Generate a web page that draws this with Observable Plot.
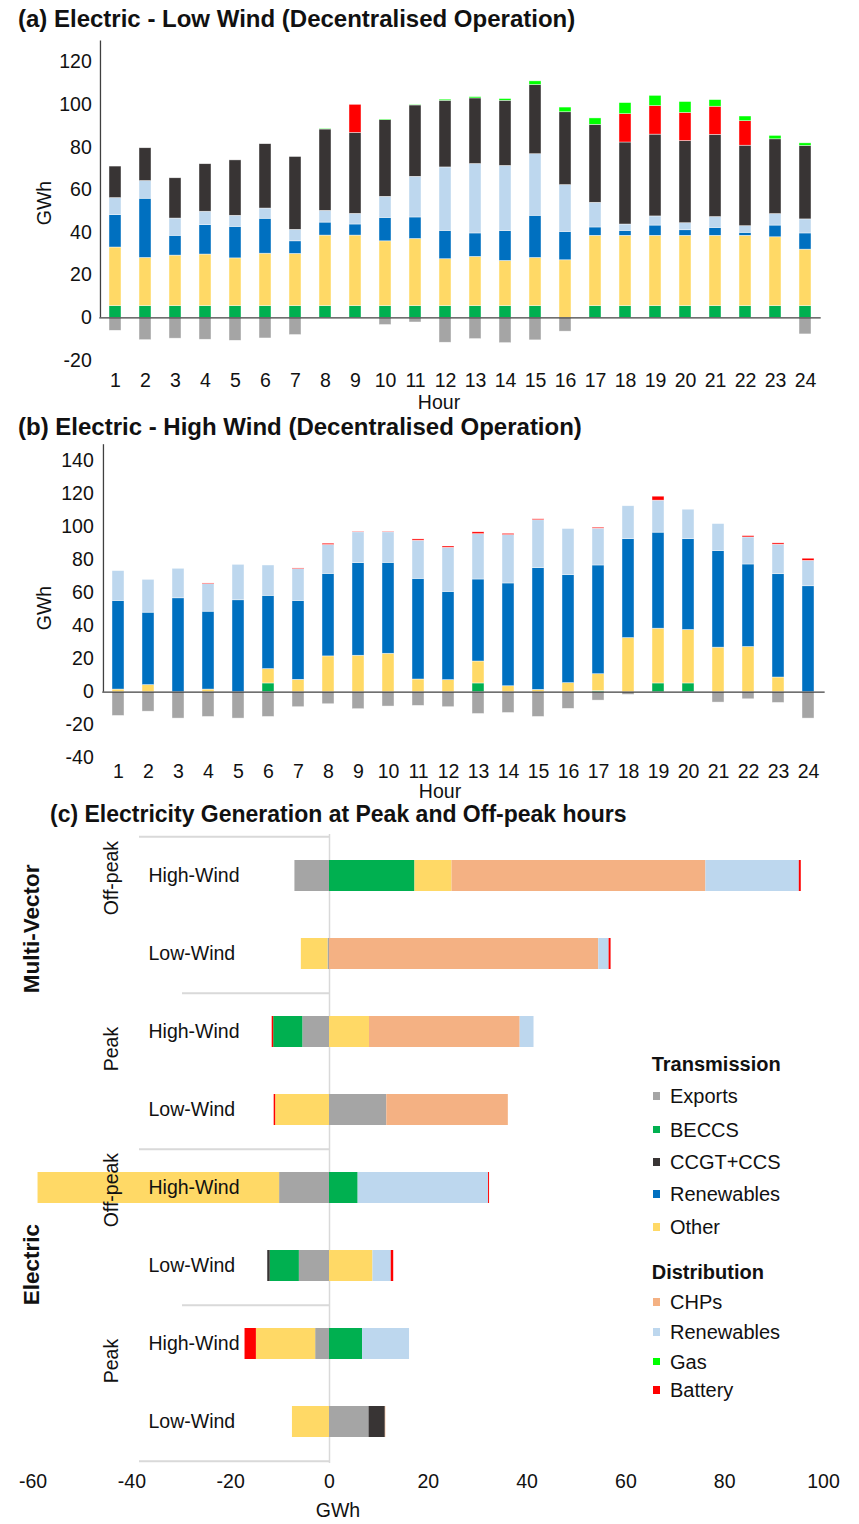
<!DOCTYPE html>
<html><head><meta charset="utf-8">
<script src="https://cdn.jsdelivr.net/npm/d3@7"></script>
<script src="https://cdn.jsdelivr.net/npm/@observablehq/plot@0.6"></script>
<style>
body{margin:0;background:#fff;}
#page{position:relative;width:859px;height:1524px;font-family:"Liberation Sans",Arial,sans-serif;color:#111;overflow:hidden;background:#fff;}
.abs{position:absolute;white-space:nowrap;line-height:1;}
#page svg{position:absolute;left:0;}
</style></head>
<body><div id="page"></div>
<script>
// ---------- shared categories ----------
const keys   = ["Exports","BECCS","CCGT+CCS","Renewables (T)","Other","CHPs","Renewables (D)","Gas","Battery"];
const colors = ["#a5a5a5","#00b050","#383434","#0070c0","#ffd966","#f4b183","#bdd7ee","#00ff00","#ff0000"];
const orderAB = ["Exports","BECCS","Other","Renewables (T)","Renewables (D)","CCGT+CCS","Battery","Gas"];
const hours = [1,2,3,4,5,6,7,8,9,10,11,12,13,14,15,16,17,18,19,20,21,22,23,24];

// ---------- (a) Electric - Low Wind ----------
const aExports = [-6.1,-10.5,-9.8,-10.3,-10.8,-9.7,-8.1,0,0,-3.4,-2.2,-11.7,-10.0,-11.9,-10.6,-6.5,0,0,0,0,0,0,0,-7.8];
const aBECCS   = [5.5,5.5,5.5,5.5,5.5,5.5,5.5,5.5,5.5,5.5,5.5,5.5,5.5,5.5,5.5,0,5.5,5.5,5.5,5.5,5.5,5.5,5.5,5.5];
const aOther   = [27.5,22.6,23.7,24.2,22.4,24.6,24.5,33.1,33.1,30.4,31.5,22.0,23.1,21.2,22.6,27.0,33.0,33.0,33.0,33.0,33.0,33.0,32.3,26.5];
const aRenT    = [15.2,27.8,9.3,13.8,14.8,16.4,5.9,6.1,5.2,11.0,10.1,13.3,11.0,14.0,19.8,13.3,3.9,2.3,4.8,2.6,3.7,1.4,5.5,7.6];
const aRenD    = [8.0,8.3,8.1,6.3,5.2,4.8,5.4,5.5,5.0,9.9,19.1,29.8,32.6,30.6,28.9,22.0,11.6,3.0,4.3,3.3,5.1,3.1,5.4,6.6];
const aCCGT    = [14.8,15.4,18.9,22.3,26.0,30.2,34.2,38.2,38.0,36.0,33.5,31.3,30.8,30.6,32.5,34.2,36.6,38.5,38.4,38.6,38.6,37.8,35.1,34.5];
const aBattery = [0,0,0,0,0,0,0,0,13.2,0,0,0,0,0,0,0,0,13.3,13.4,13.2,13.2,11.5,0,0];
const aGas     = [0,0,0,0,0,0,0,0.3,0,0.3,0.3,0.5,0.6,0.8,1.7,2.2,3.0,5.2,4.8,5.1,3.1,2.2,1.6,1.2];

// ---------- (b) Electric - High Wind ----------
const bExports = [-14.4,-11.8,-16.0,-15.0,-16.0,-15.0,-9.1,-7.3,-10.3,-8.7,-8.3,-9.1,-13.2,-12.6,-15.0,-10.1,-5.1,-1.6,0,0,-6.3,-4.3,-6.5,-16.0];
const bBECCS   = [0,0,0,0,0,5.3,0,0,0,0,0,0,5.3,0,0,0,0.6,0,5.3,5.3,0,0,0,0];
const bOther   = [1.6,4.3,0,1.6,0,8.7,7.5,21.7,22.1,23.3,7.7,7.3,13.3,3.6,1.4,5.5,10.3,32.8,33.2,32.4,27.0,27.4,8.9,0];
const bRenT    = [53.7,43.9,56.9,47.2,55.7,44.4,47.8,50.0,56.1,55.1,61.0,53.5,49.7,62.3,73.8,65.4,65.9,60.0,58.2,55.1,58.5,50.0,62.6,64.2];
const bRenD    = [18.1,19.9,17.9,16.7,21.5,18.4,19.3,17.5,18.7,18.5,23.1,26.7,27.5,29.3,29.0,28.0,22.3,19.9,19.4,17.8,16.4,16.4,17.9,15.4];
const bBattery = [0,0,0,0.4,0,0,0.4,0.8,0.4,0.4,0.8,0.8,1.1,0.8,0.6,0,0.6,0,2.4,0,0,0.8,0.8,1.3];

// ---------- (c) Peak / Off-peak ----------
const cSystem = ["Multi-Vector","Multi-Vector","Multi-Vector","Multi-Vector","Electric","Electric","Electric","Electric"];
const cPeriod = ["Off-peak","Off-peak","Peak","Peak","Off-peak","Off-peak","Peak","Peak"];
const cWind   = ["High-Wind","Low-Wind","High-Wind","Low-Wind","High-Wind","Low-Wind","High-Wind","Low-Wind"];
const cExports = [-7.0,-0.3,-5.4,11.6,-10.1,-6.1,-2.8,8.0];
const cBECCS   = [17.3,0,-5.9,0,5.8,-5.9,6.7,0];
const cCCGT    = [0,0,0,0,0,-0.5,0,3.3];
const cRenT    = [0,0,0,0,0,0,0,0];
const cOther   = [7.5,-5.4,8.1,-10.9,-48.9,8.8,-12.0,-7.5];
const cCHPs    = [51.4,54.5,30.5,24.6,0,0,0,0.1];
const cRenD    = [18.9,2.1,2.8,0,26.4,3.7,9.5,0];
const cGas     = [0,0,0,0,0,0,0,0];
const cBattery = [0.4,0.4,-0.3,-0.3,0.2,0.5,-2.3,0];
const xTicksC = [-60,-40,-20,0,20,40,60,80,100];

// ---------- helpers ----------
const page = document.getElementById("page");
const FONT = '"Liberation Sans", Arial, sans-serif';
function label(text, {x, cy, size = 19.5, bold = false, anchor = "start", rotate = 0}) {
  const d = document.createElement("div");
  d.className = "abs";
  d.textContent = text;
  d.style.left = x + "px";
  d.style.top = cy + "px";
  d.style.fontSize = size + "px";
  if (bold) d.style.fontWeight = "bold";
  const tx = anchor === "middle" ? "-50%" : anchor === "end" ? "-100%" : "0";
  d.style.transform = rotate ? `translate(-50%,-50%) rotate(${rotate}deg)` : `translate(${tx},-50%)`;
  page.appendChild(d);
  return d;
}
function place(svg, top) { svg.style.top = top + "px"; page.appendChild(svg); }
const baseStyle = {fontFamily: FONT, fontSize: "19.5px", color: "#111", background: "transparent", overflow: "visible"};
const plainFormat = d => String(d);

function tidy(seriesList) {
  return seriesList.flatMap(([name, vals]) => vals.map((v, i) => ({hour: hours[i], series: name, value: v}))).filter(d => d.value !== 0);
}

// ---------- panel (a) ----------
const dataA = tidy([["Exports",aExports],["BECCS",aBECCS],["Other",aOther],["Renewables (T)",aRenT],["Renewables (D)",aRenD],["CCGT+CCS",aCCGT],["Battery",aBattery],["Gas",aGas]]);
const A = {top: 0, height: 392, left: 99.3, right: 820.7, yTop: 40.4, yBottom: 359.9};
const stepA = (A.right - A.left) / hours.length;
const svgA = Plot.plot({
  width: 859, height: A.height,
  marginLeft: A.left, marginRight: 859 - A.right, marginTop: A.yTop - A.top, marginBottom: A.top + A.height - A.yBottom,
  style: baseStyle,
  x: {type: "band", domain: hours, paddingInner: 0.59, paddingOuter: 0.295, tickSize: 0, tickPadding: 13, label: null},
  y: {domain: [-20, 130], ticks: [-20,0,20,40,60,80,100,120], tickFormat: plainFormat, tickSize: 0, tickPadding: 8, label: null},
  color: {domain: keys, range: colors},
  marks: [
    Plot.barY(dataA, Plot.stackY({x: "hour", y: "value", fill: "series", order: orderAB, stroke: "#fff", strokeWidth: 0.6, strokeOpacity: 0.7})),
    Plot.ruleY([0], {stroke: "#404040", strokeWidth: 1.3}),
    Plot.ruleX([hours[0]], {y1: 0, y2: 130, dx: -stepA / 2, stroke: "#404040", strokeWidth: 1.3})
  ]
});
place(svgA, A.top);

// ---------- panel (b) ----------
const dataB = tidy([["Exports",bExports],["BECCS",bBECCS],["Other",bOther],["Renewables (T)",bRenT],["Renewables (D)",bRenD],["Battery",bBattery]]);
const B = {top: 440, height: 342, left: 102.25, right: 824.65, yTop: 444.2, yBottom: 757.7};
const stepB = (B.right - B.left) / hours.length;
const svgB = Plot.plot({
  width: 859, height: B.height,
  marginLeft: B.left, marginRight: 859 - B.right, marginTop: B.yTop - B.top, marginBottom: B.top + B.height - B.yBottom,
  style: baseStyle,
  x: {type: "band", domain: hours, paddingInner: 0.59, paddingOuter: 0.295, tickSize: 0, tickPadding: 5.5, label: null},
  y: {domain: [-40, 150], ticks: [-40,-20,0,20,40,60,80,100,120,140], tickFormat: plainFormat, tickSize: 0, tickPadding: 9, label: null},
  color: {domain: keys, range: colors},
  marks: [
    Plot.barY(dataB, Plot.stackY({x: "hour", y: "value", fill: "series", order: orderAB, stroke: "#fff", strokeWidth: 0.6, strokeOpacity: 0.7})),
    Plot.ruleY([0], {stroke: "#404040", strokeWidth: 1.3}),
    Plot.ruleX([hours[0]], {y1: 0, y2: 150, dx: -stepB / 2, stroke: "#404040", strokeWidth: 1.3})
  ]
});
place(svgB, B.top);

// ---------- panel (c) ----------
const rowKeys = cWind.map((w, i) => `${cSystem[i]}|${cPeriod[i]}|${w}`);
const rowsC = rowKeys.map((k, i) => ({key: k, system: cSystem[i], period: cPeriod[i], wind: cWind[i], index: i}));
const seriesC = [["Exports",cExports],["BECCS",cBECCS],["CCGT+CCS",cCCGT],["Renewables (T)",cRenT],["Other",cOther],["CHPs",cCHPs],["Renewables (D)",cRenD],["Gas",cGas],["Battery",cBattery]];
const dataC = seriesC.flatMap(([name, vals]) => vals.map((v, i) => ({row: rowKeys[i], series: name, value: v}))).filter(d => d.value !== 0);
const C = {top: 830, height: 694, left: 32.6, right: 823, yTop: 834, yBottom: 1463};
const stepC = (C.yBottom - C.yTop) / rowKeys.length;
const pxToX = d3.scaleLinear([C.left, C.right], [-60, 100]); // layout pixel -> data units, for axis decorations only
const periodGroups = [], systemGroups = [];
rowsC.forEach((r, i) => {
  if (i === 0 || r.period !== rowsC[i-1].period || r.system !== rowsC[i-1].system) periodGroups.push({first: i, n: 0, period: r.period});
  periodGroups[periodGroups.length - 1].n++;
  if (i === 0 || r.system !== rowsC[i-1].system) systemGroups.push({first: i, n: 0, system: r.system});
  systemGroups[systemGroups.length - 1].n++;
});
const periodLabels = periodGroups.map(g => ({key: rowKeys[Math.floor(g.first + (g.n - 1) / 2)], text: g.period}));
const systemLabels = systemGroups.map(g => ({key: rowKeys[Math.floor(g.first + (g.n - 1) / 2)], text: g.system}));
const sepBelow = rowsC.map((r, i) => {
  const last = i === rowsC.length - 1;
  const sysEnd = last || rowsC[i+1].system !== r.system;
  const perEnd = !sysEnd && rowsC[i+1].period !== r.period;
  return sysEnd ? {key: r.key, x1: pxToX(139)} : perEnd ? {key: r.key, x1: pxToX(182)} : null;
}).filter(Boolean);
const sepTop = [{key: rowKeys[0], x1: pxToX(139)}];

const svgC = Plot.plot({
  width: 859, height: C.height,
  marginLeft: C.left, marginRight: 859 - C.right, marginTop: C.yTop - C.top, marginBottom: C.top + C.height - C.yBottom,
  style: baseStyle,
  x: {domain: [-60, 100], ticks: xTicksC, tickFormat: plainFormat, tickSize: 0, tickPadding: 11, label: null},
  y: {type: "band", domain: rowKeys, paddingInner: 0.602, paddingOuter: 0.301, axis: null},
  color: {domain: keys, range: colors},
  marks: [
    Plot.ruleX([0], {stroke: "#d9d9d9", strokeWidth: 1.5}),
    Plot.ruleY(sepBelow, {y: "key", x1: "x1", x2: 0, dy: stepC / 2, stroke: "#d9d9d9", strokeWidth: 2}),
    Plot.ruleY(sepTop, {y: "key", x1: "x1", x2: 0, dy: -stepC / 2, stroke: "#d9d9d9", strokeWidth: 2}),
    Plot.barX(dataC, Plot.stackX({y: "row", x: "value", fill: "series", order: keys})),
    Plot.text(rowsC, {y: "key", text: "wind", frameAnchor: "left", textAnchor: "start", dx: 148 - C.left, fontSize: 19.5, fill: "#111"}),
    Plot.text(periodLabels, {y: "key", text: "text", frameAnchor: "left", dx: 111 - C.left, dy: stepC / 2, rotate: -90, fontSize: 19.5, fill: "#111"}),
    Plot.text(systemLabels, {y: "key", text: "text", frameAnchor: "left", dx: 31 - C.left, dy: stepC / 2, rotate: -90, fontSize: 22.5, fontWeight: "bold", fill: "#111"})
  ]
});
place(svgC, C.top);

// ---------- titles & axis titles ----------
label("(a) Electric - Low Wind (Decentralised Operation)", {x: 18, cy: 19, size: 24, bold: true});
label("(b) Electric - High Wind (Decentralised Operation)", {x: 18, cy: 427, size: 24, bold: true});
label("(c) Electricity Generation at Peak and Off-peak hours", {x: 50, cy: 814, size: 23, bold: true});
label("GWh", {x: 45, cy: 203, rotate: -90});
label("GWh", {x: 45, cy: 608, rotate: -90});
label("Hour", {x: 439, cy: 403, anchor: "middle"});
label("Hour", {x: 440, cy: 792, anchor: "middle"});
label("GWh", {x: 338, cy: 1511, anchor: "middle"});

// ---------- legend ----------
const legendGroups = [
  {title: "Transmission", cy: 1064, items: [["Exports","Exports",1096],["BECCS","BECCS",1129.5],["CCGT+CCS","CCGT+CCS",1162],["Renewables (T)","Renewables",1194],["Other","Other",1227]]},
  {title: "Distribution", cy: 1271.5, items: [["CHPs","CHPs",1302],["Renewables (D)","Renewables",1332],["Gas","Gas",1361.5],["Battery","Battery",1390]]}
];
legendGroups.forEach(g => {
  label(g.title, {x: 651.7, cy: g.cy, size: 20, bold: true});
  g.items.forEach(([key, text, cy]) => {
    const sq = document.createElement("div");
    sq.className = "abs";
    Object.assign(sq.style, {left: "652.7px", top: (cy - 3.8) + "px", width: "7.5px", height: "7.5px", background: colors[keys.indexOf(key)]});
    page.appendChild(sq);
    label(text, {x: 670, cy, size: 20});
  });
});
</script></body></html>
